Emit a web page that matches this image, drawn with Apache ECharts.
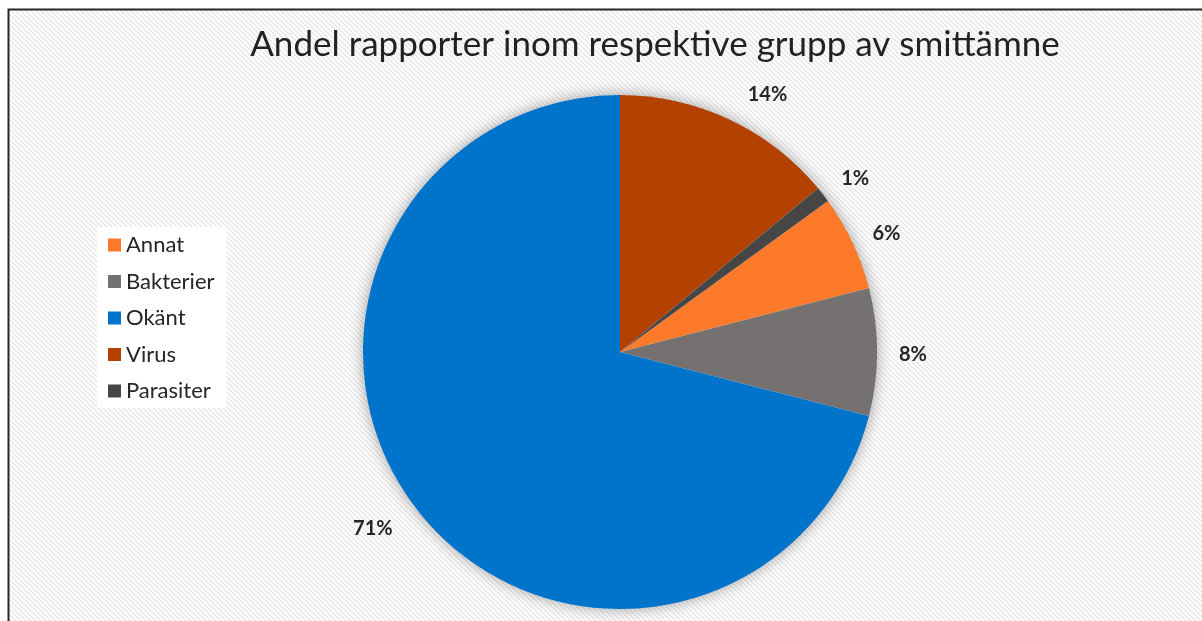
<!DOCTYPE html>
<html>
<head>
<meta charset="utf-8">
<script src="https://cdn.jsdelivr.net/npm/echarts@6/dist/echarts.min.js"></script>
<style>
  html, body { margin: 0; padding: 0; background: #ffffff; }
  #chart { width: 1202px; height: 621px; }
</style>
</head>
<body>
<div id="chart"></div>
<script>
// Share of reports per pathogen group (percent)
const categories = ['Annat', 'Bakterier', 'Okänt', 'Virus', 'Parasiter'];
const shares = [6, 8, 71, 14, 1];
const colors = ['#fd7a2b', '#767171', '#0073cb', '#b34100', '#474646'];
const titleText = 'Andel rapporter inom respektive grupp av smittämne';

const FONT = 'Lato, "Open Sans", "Liberation Sans", sans-serif';
const CENTER = [620, 352];
const R = 257;

// small per-label shifts so the percentages sit clear of the rim
const labelShift = { Annat: [4, 5], Bakterier: [3, 3], Okänt: [-18, -1], Virus: [24, 5], Parasiter: [6, 4] };

// diagonal hatch tile for the chart background
function hatchTile() {
  const s = 5;
  const c = document.createElement('canvas');
  c.width = s; c.height = s;
  const g = c.getContext('2d');
  g.fillStyle = '#ffffff';
  g.fillRect(0, 0, s, s);
  g.strokeStyle = '#e6e6e6';
  g.lineWidth = 1.4;
  g.beginPath();
  for (let k = -1; k <= 1; k++) {
    g.moveTo(k * s - 1, -1);
    g.lineTo(k * s + s + 1, s + 1);
  }
  g.stroke();
  return c;
}

const pieData = categories.map((name, i) => ({
  name, value: shares[i], itemStyle: { color: colors[i] }
}));

const chart = echarts.init(document.getElementById('chart'), null, { renderer: 'canvas' });
chart.setOption({
  animation: false,
  backgroundColor: '#ffffff',
  graphic: [
    {
      type: 'rect', z: 0, silent: true,
      shape: { x: 9, y: 10, width: 1202, height: 621 },
      style: { fill: { image: hatchTile(), repeat: 'repeat' } }
    },
    {
      type: 'polyline', z: 1, silent: true,
      shape: { points: [[8.5, 630], [8.5, 9.5], [1210, 9.5]] },
      style: { stroke: '#262626', lineWidth: 2, fill: null }
    },
    {
      type: 'circle', z: 1, silent: true,
      shape: { cx: CENTER[0], cy: CENTER[1], r: R - 1 },
      style: { fill: '#ffffff', shadowBlur: 16, shadowColor: 'rgba(0,0,0,0.4)' }
    },
    {
      type: 'text', z: 5, silent: true,
      x: 655, y: 45,
      style: {
        text: titleText, align: 'center', verticalAlign: 'middle',
        font: '35px ' + FONT, fill: '#222222'
      }
    }
  ],
  legend: {
    orient: 'vertical',
    left: 97, top: 227,
    data: categories,
    backgroundColor: '#ffffff',
    padding: [7, 12, 6, 11],
    itemWidth: 13, itemHeight: 13,
    itemGap: 14.5,
    icon: 'rect',
    textStyle: { fontFamily: FONT, fontSize: 22, lineHeight: 22, color: '#262626' }
  },
  series: [
    {
      type: 'pie',
      z: 2,
      center: CENTER,
      radius: [0, R],
      startAngle: 36,
      clockwise: true,
      data: pieData,
      label: { show: false },
      labelLine: { show: false },
      itemStyle: { borderWidth: 0 },
      emphasis: { disabled: true }
    },
    {
      // transparent ring carrying the percentage labels just outside the pie
      type: 'pie',
      z: 3,
      silent: true,
      center: CENTER,
      radius: [R + 18, R + 42],
      startAngle: 36,
      clockwise: true,
      data: pieData.map(d => ({
        name: d.name, value: d.value,
        itemStyle: { color: 'rgba(0,0,0,0)' },
        label: { offset: labelShift[d.name] }
      })),
      label: {
        show: true,
        position: 'inside',
        formatter: '{d}%',
        fontFamily: FONT,
        fontWeight: 'bold',
        fontSize: 20,
        color: '#262626'
      },
      labelLine: { show: false },
      emphasis: { disabled: true }
    }
  ]
});
</script>
</body>
</html>
